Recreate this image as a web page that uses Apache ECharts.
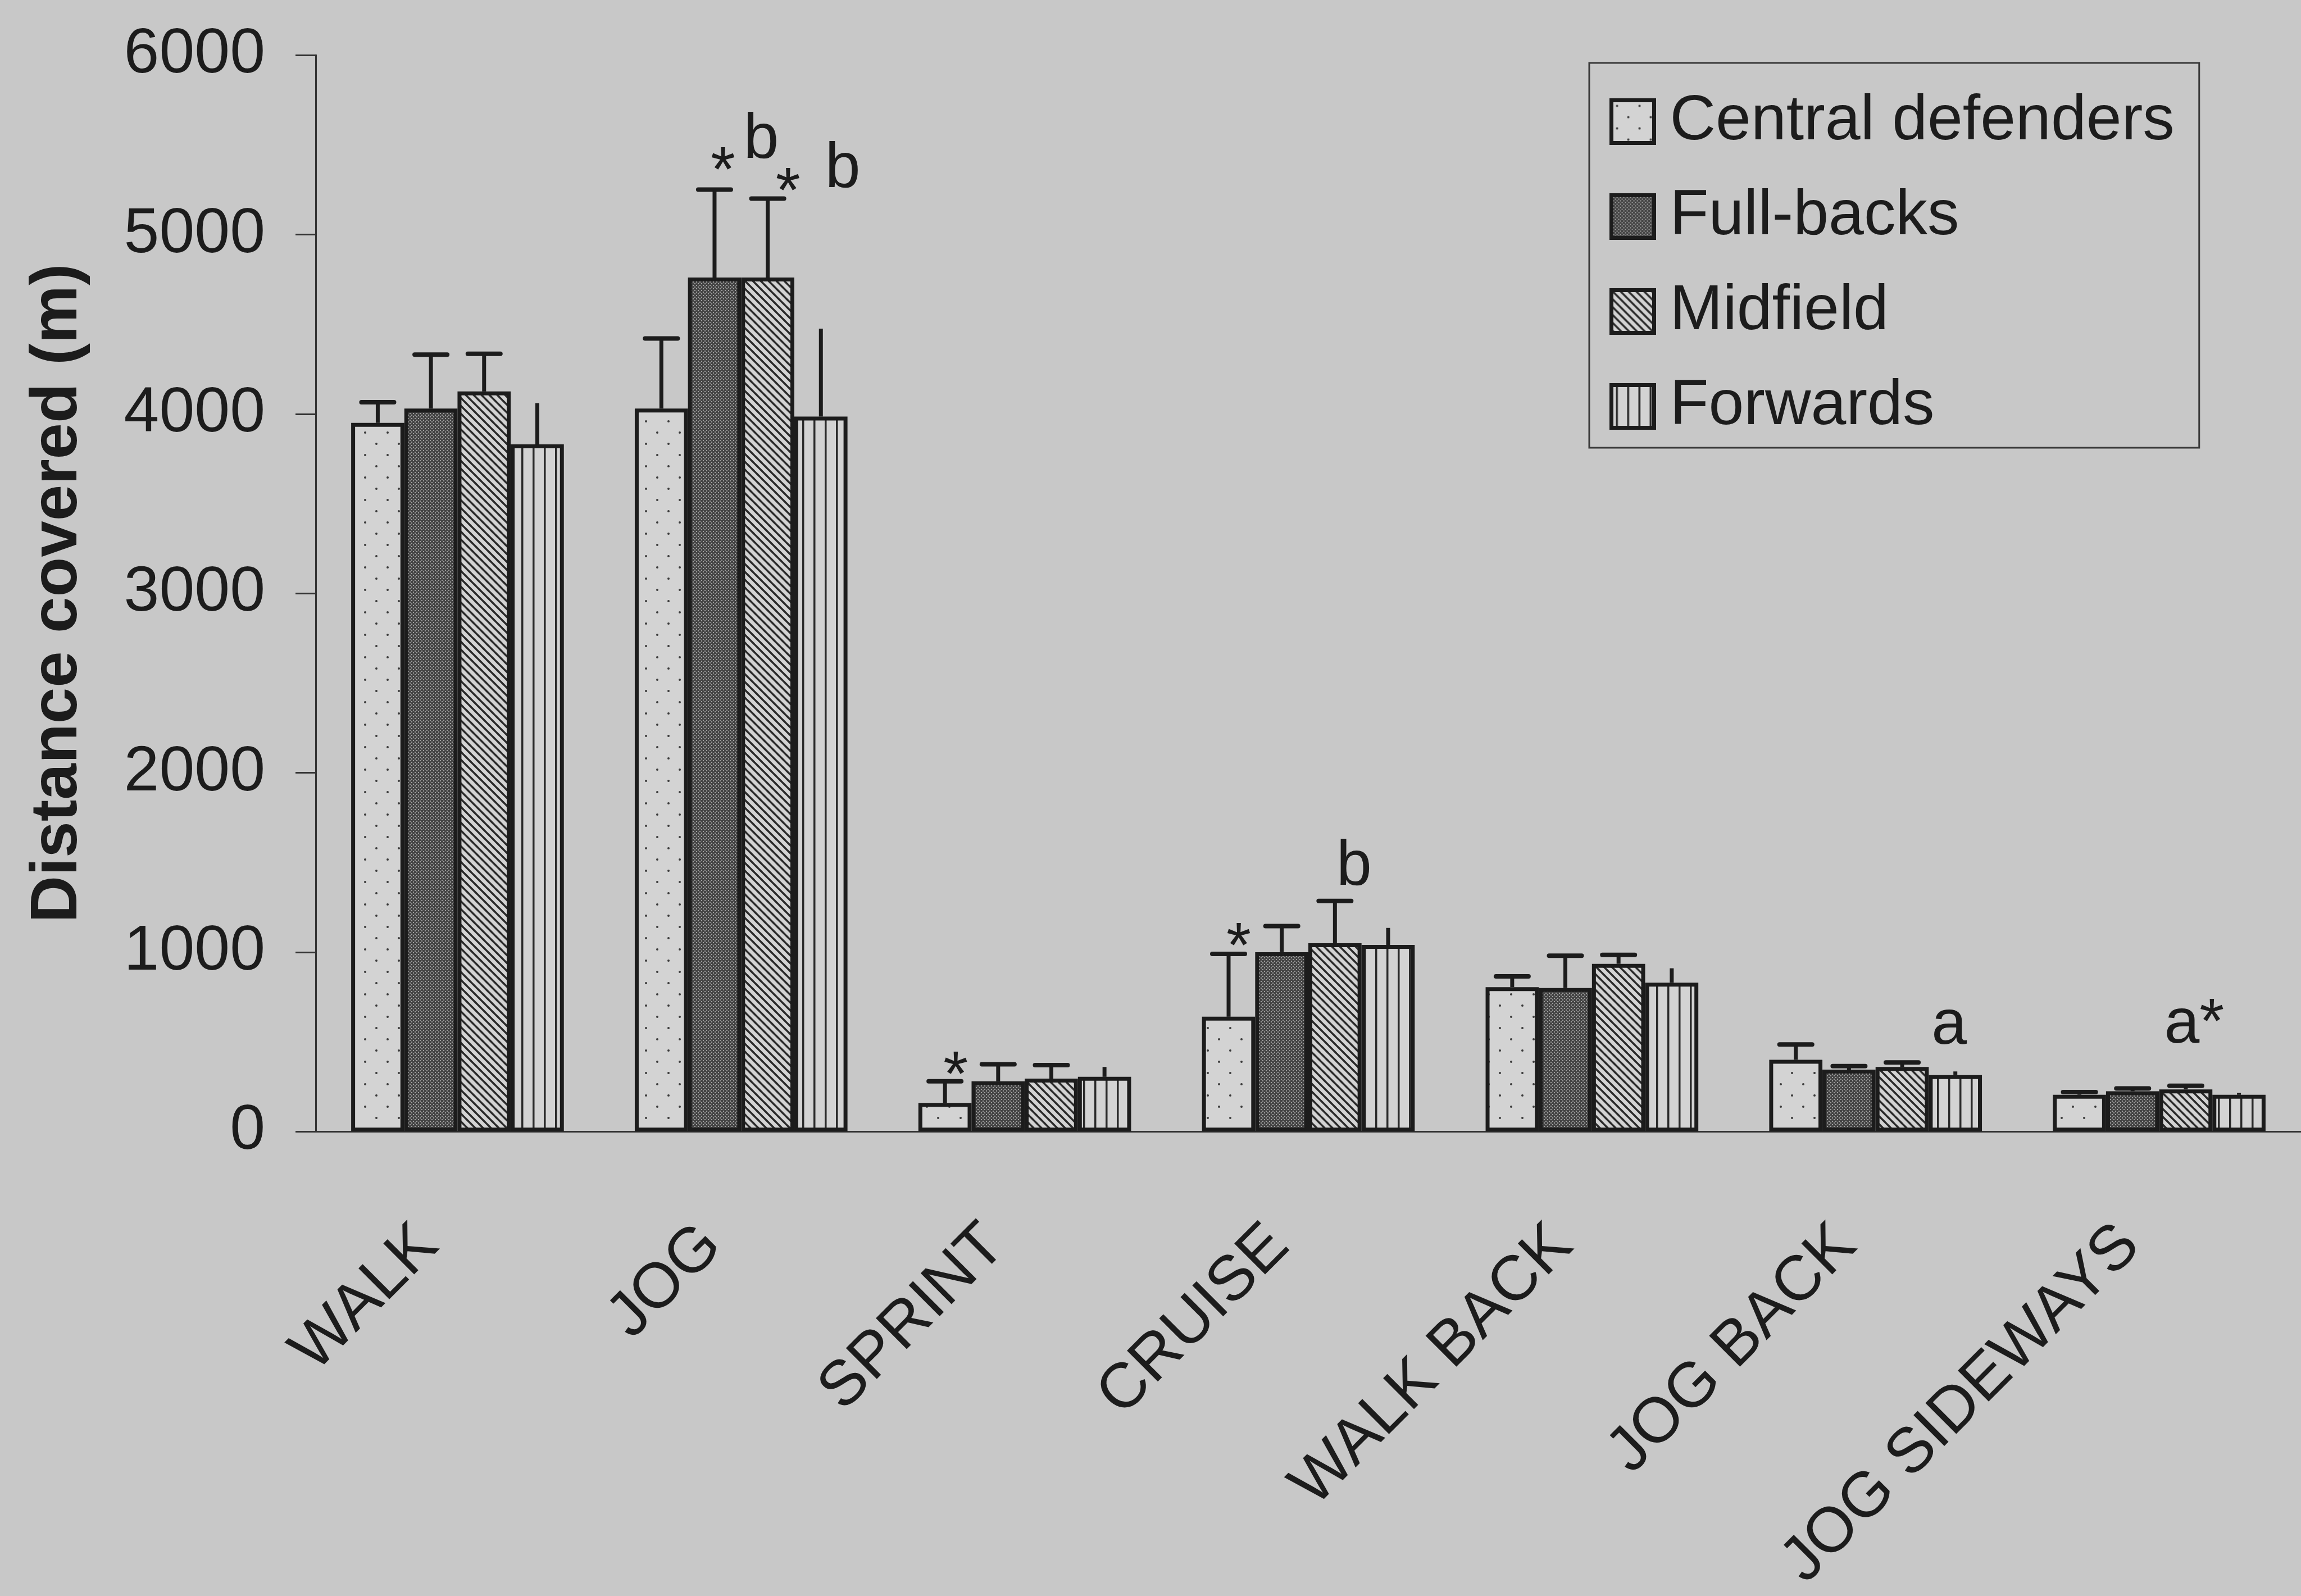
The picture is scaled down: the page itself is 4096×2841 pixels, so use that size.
<!DOCTYPE html>
<html><head><meta charset="utf-8">
<script src="https://cdn.jsdelivr.net/npm/echarts@6/dist/echarts.min.js"></script>
<style>html,body{margin:0;padding:0;background:#c8c8c8}#chart{width:4096px;height:2841px}</style>
</head><body><div id="chart"></div><script>
// ---- data ----
const categories = ['WALK', 'JOG', 'SPRINT', 'CRUISE', 'WALK BACK', 'JOG BACK', 'JOG SIDEWAYS'];
const seriesNames = ['Central defenders', 'Full-backs', 'Midfield', 'Forwards'];
const centralDefenders = [3950, 4030, 160, 640, 805, 400, 205];
const fullBacks        = [4030, 4760, 280, 1000, 800, 345, 225];
const midfield         = [4125, 4760, 295, 1050, 935, 360, 235];
const forwards         = [3830, 3985, 305, 1040, 830, 315, 205];
const centralDefendersSD = [115, 390, 120, 350, 60, 85, 15];
const fullBacksSD        = [300, 490, 95, 145, 180, 20, 15];
const midfieldSD         = [210, 440, 75, 235, 50, 25, 20];
const forwardsSD         = [230, 490, 55, 95, 80, 20, 10];
const yTicks = [0, 1000, 2000, 3000, 4000, 5000, 6000];
// significance marks: [category, series index, text]
const annotations = [
  ['JOG', 1, '*'], ['JOG', 1, 'b'], ['JOG', 2, '*'], ['JOG', 3, 'b'],
  ['SPRINT', 0, '*'], ['CRUISE', 0, '*'], ['CRUISE', 2, 'b'],
  ['JOG BACK', 3, 'a'], ['JOG SIDEWAYS', 2, 'a*']
];
// label placement (px offsets of the glyph centre from the top of the error bar) – styling only
const annotationOffsets = [[15, -57], [83, -88], [36, -36], [39, -283], [19, -34], [18, -36], [34, -60], [-11, -80], [15, -108]];

const means = [centralDefenders, fullBacks, midfield, forwards];
const sds = [centralDefendersSD, fullBacksSD, midfieldSD, forwardsSD];

const FONT = '"Liberation Sans", Arial, Helvetica, sans-serif';
const INK = '#1c1c1c';
const BG = '#c8c8c8';
const LIGHT = '#d3d3d3';

function tile(w, h, draw) {
  const c = document.createElement('canvas');
  c.width = w; c.height = h;
  const g = c.getContext('2d');
  draw(g, w, h);
  return { image: c, repeat: 'repeat' };
}
const patterns = [
  tile(40, 40, (g, w, h) => { g.fillStyle = LIGHT; g.fillRect(0, 0, w, h); g.fillStyle = '#3a3a3a';
    g.beginPath(); g.arc(10, 10, 2, 0, Math.PI * 2); g.fill();
    g.beginPath(); g.arc(30, 30, 2, 0, Math.PI * 2); g.fill(); }),
  tile(6, 6, (g, w, h) => { g.fillStyle = '#444'; g.fillRect(0, 0, w, h); g.fillStyle = '#a0a0a0';
    g.fillRect(0, 0, 2, 2); g.fillRect(3, 3, 2, 2); }),
  tile(14, 14, (g, w, h) => { g.fillStyle = LIGHT; g.fillRect(0, 0, w, h); g.strokeStyle = '#2a2a2a'; g.lineWidth = 3.5;
    for (const o of [-14, 0, 14]) { g.beginPath(); g.moveTo(o - 2, -2); g.lineTo(o + 16, 16); g.stroke(); } }),
  tile(20, 4, (g, w, h) => { g.fillStyle = LIGHT; g.fillRect(0, 0, w, h); g.fillStyle = '#2a2a2a'; g.fillRect(8, 0, 3.5, h); })
];

const barSeries = seriesNames.map((name, i) => ({
  type: 'bar', name, data: means[i], barGap: '0%', barCategoryGap: '25%',
  itemStyle: { color: patterns[i], borderColor: INK, borderWidth: 7 },
  emphasis: { disabled: true }, z: 2
}));

const errData = [];
means.forEach((arr, s) => arr.forEach((v, c) => errData.push([c, v, sds[s][c], s])));

function barCenter(api, cat, s) {
  const band = api.size([1, 0])[0];
  const bw = band * 0.75 / 4;
  return api.coord([cat, 0])[0] + (s - 1.5) * bw;
}

const errSeries = {
  type: 'custom', data: errData, encode: { x: 0, y: 1 }, z: 5, silent: true,
  renderItem: (params, api) => {
    const cat = api.value(0), mean = api.value(1), sd = api.value(2), s = api.value(3);
    const cx = barCenter(api, cat, s);
    const y0 = api.coord([cat, mean])[1];
    const y1 = api.coord([cat, mean + sd])[1];
    const ch = [{ type: 'line', shape: { x1: cx, y1: y0, x2: cx, y2: y1 }, style: { stroke: INK, lineWidth: 7 } }];
    if (s !== 3) ch.push({ type: 'line', shape: { x1: cx - 29, y1: y1, x2: cx + 29, y2: y1 }, style: { stroke: INK, lineWidth: 8, lineCap: 'round' } });
    return { type: 'group', children: ch };
  }
};

const annData = annotations.map((a, k) => {
  const c = categories.indexOf(a[0]), s = a[1];
  return [c, means[s][c] + sds[s][c], s, k];
});
const annSeries = {
  type: 'custom', data: annData, encode: { x: 0, y: 1 }, z: 6, silent: true, clip: false,
  renderItem: (params, api) => {
    const cat = api.value(0), top = api.value(1), s = api.value(2), k = api.value(3);
    const txt = annotations[k][2];
    const off = annotationOffsets[k];
    const cx = barCenter(api, cat, s) + off[0];
    let cy = api.coord([cat, top])[1] + off[1];
    if (txt[0] === '*') cy += 28;
    return { type: 'text', x: cx, y: cy, style: { text: txt, font: '113px ' + FONT, fill: INK, align: 'center', verticalAlign: 'middle' } };
  }
};

const chart = echarts.init(document.getElementById('chart'));
chart.setOption({
  backgroundColor: BG,
  animation: false,
  grid: { left: 562, right: -10, top: 98, bottom: 820 },
  legend: {
    orient: 'vertical', left: 2829, top: 112, padding: [48, 44, 17, 36],
    itemWidth: 76, itemHeight: 76, itemGap: 56, icon: 'rect',
    borderColor: '#3a3a3a', borderWidth: 3, backgroundColor: 'transparent',
    textStyle: { fontFamily: FONT, fontSize: 113, color: INK, lineHeight: 113, padding: [0, 0, 0, 23] },
    itemStyle: { borderColor: INK, borderWidth: 7 },
    data: seriesNames, selectedMode: false
  },
  xAxis: {
    type: 'category', data: categories,
    axisLine: { lineStyle: { color: '#333', width: 3 } },
    axisTick: { length: 34, lineStyle: { color: '#333', width: 3 } },
    axisLabel: { rotate: 45, margin: 133, padding: [0, 74, 0, 0], interval: 0, fontSize: 113, fontFamily: FONT, color: INK }
  },
  yAxis: {
    type: 'value', min: yTicks[0], max: yTicks[yTicks.length - 1], interval: yTicks[1] - yTicks[0],
    name: 'Distance covered (m)', nameLocation: 'middle', nameRotate: 90, nameGap: 400,
    nameTextStyle: { fontSize: 116, fontWeight: 'bold', fontFamily: FONT, color: INK },
    axisLine: { show: true, lineStyle: { color: '#333', width: 3 } },
    axisTick: { show: true, length: 36, lineStyle: { color: '#333', width: 3 } },
    splitLine: { show: false },
    axisLabel: { margin: 90, fontSize: 113, fontFamily: FONT, color: INK, formatter: v => String(v) }
  },
  series: [...barSeries, errSeries, annSeries]
});
</script></body></html>
